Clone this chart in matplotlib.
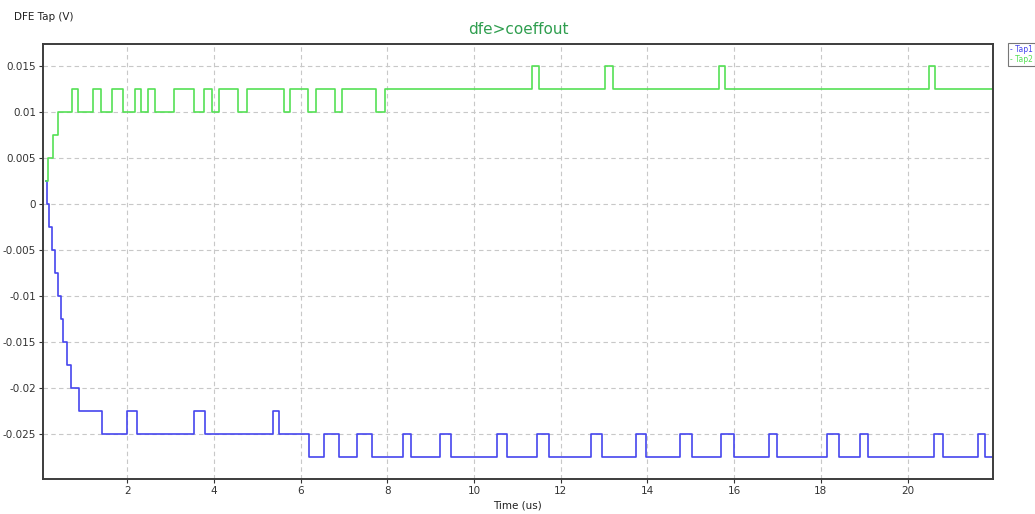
import matplotlib
matplotlib.use("Agg")
import matplotlib.pyplot as plt

# Tap1 (blue): time (us) at which each new level starts, and the level (V)
tap1_t = [0.125, 0.148, 0.201, 0.256, 0.332, 0.408, 0.471, 0.510, 0.616, 0.702,
          0.886, 1.410, 2.001, 2.218, 3.540, 3.794, 5.370, 5.509, 6.201, 6.541,
          6.887, 7.295, 7.655, 8.371, 8.541, 9.218, 9.465, 10.526, 10.771, 11.463,
          11.717, 12.702, 12.949, 13.741, 13.971, 14.740, 15.026, 15.702, 16.002, 16.794,
          16.988, 18.142, 18.419, 18.894, 19.088, 20.602, 20.819, 21.618, 21.795, 21.950]
tap1_v = [0.0025, 0.0, -0.0025, -0.005, -0.0075, -0.01, -0.0125, -0.015, -0.0175, -0.02,
          -0.0225, -0.025, -0.0225, -0.025, -0.0225, -0.025, -0.0225, -0.025, -0.0275, -0.025,
          -0.0275, -0.025, -0.0275, -0.025, -0.0275, -0.025, -0.0275, -0.025, -0.0275, -0.025,
          -0.0275, -0.025, -0.0275, -0.025, -0.0275, -0.025, -0.0275, -0.025, -0.0275, -0.025,
          -0.0275, -0.025, -0.0275, -0.025, -0.0275, -0.025, -0.0275, -0.025, -0.0275, -0.0275]

# Tap2 (green)
tap2_t = [0.125, 0.178, 0.293, 0.408, 0.718, 0.870, 1.202, 1.387, 1.641, 1.909,
          2.179, 2.317, 2.486, 2.640, 3.079, 3.547, 3.778, 3.949, 4.124, 4.549,
          4.763, 5.624, 5.763, 6.178, 6.356, 6.794, 6.949, 7.740, 7.937, 11.334,
          11.502, 13.025, 13.203, 15.640, 15.795, 20.503, 20.641, 21.950]
tap2_v = [0.0025, 0.005, 0.0075, 0.01, 0.0125, 0.01, 0.0125, 0.01, 0.0125, 0.01,
          0.0125, 0.01, 0.0125, 0.01, 0.0125, 0.01, 0.0125, 0.01, 0.0125, 0.01,
          0.0125, 0.01, 0.0125, 0.01, 0.0125, 0.01, 0.0125, 0.01, 0.0125, 0.015,
          0.0125, 0.015, 0.0125, 0.015, 0.0125, 0.015, 0.0125, 0.0125]

x_ticks = [2, 4, 6, 8, 10, 12, 14, 16, 18, 20]
y_ticks = [0.015, 0.01, 0.005, 0, -0.005, -0.01, -0.015, -0.02, -0.025]
y_tick_labels = ["0.015", "0.01", "0.005", "0", "-0.005", "-0.01", "-0.015", "-0.02", "-0.025"]

blue = "#4646ee"
green = "#55e055"
frame = "#3c3c3c"

fig = plt.figure(figsize=(10.35, 5.14), dpi=100)
ax = fig.add_axes([0.0415, 0.068, 0.9179, 0.8464])

ax.plot(tap1_t, tap1_v, drawstyle="steps-post", color=blue, lw=1.2, label="Tap1")
ax.plot(tap2_t, tap2_v, drawstyle="steps-post", color=green, lw=1.2, label="Tap2")

ax.set_xlim(0.055, 21.97)
ax.set_ylim(-0.0299, 0.0174)
ax.set_xticks(x_ticks)
ax.set_xticklabels([str(v) for v in x_ticks])
ax.set_yticks(y_ticks)
ax.set_yticklabels(y_tick_labels)
ax.tick_params(labelsize=7.5, colors="#333333", length=3, width=0.8, pad=2)
ax.grid(True, color="#c8c8c8", linestyle=(0, (4, 3)), linewidth=0.8)
ax.set_axisbelow(True)
for s in ax.spines.values():
    s.set_color(frame)
    s.set_linewidth(1.4)

ax.set_title("dfe>coeffout", color="#2f9e4f", fontsize=11, pad=7)
fig.text(0.0135, 0.967, "DFE Tap (V)", fontsize=7.5, color="#222222", va="center", ha="left")
fig.text(0.5, 0.016, "Time (us)", fontsize=7.5, color="#222222", va="center", ha="center")

# tiny legend box outside the plot, top right
leg = fig.legend(handles=[], loc="upper left", bbox_to_anchor=(0.973, 0.917),
                 frameon=True, fancybox=False, borderpad=0.15)
leg.get_frame().set_edgecolor("#777777")
leg.get_frame().set_linewidth(0.8)
fig.text(0.976, 0.904, "- Tap1", fontsize=5.5, color=blue, va="center", ha="left")
fig.text(0.976, 0.884, "- Tap2", fontsize=5.5, color=green, va="center", ha="left")
box = matplotlib.patches.Rectangle((0.9735, 0.872), 0.0265, 0.045, transform=fig.transFigure,
                                   fill=False, edgecolor="#777777", linewidth=0.8)
fig.patches.append(box)
leg.remove()

fig.savefig("out.png", dpi=100)
